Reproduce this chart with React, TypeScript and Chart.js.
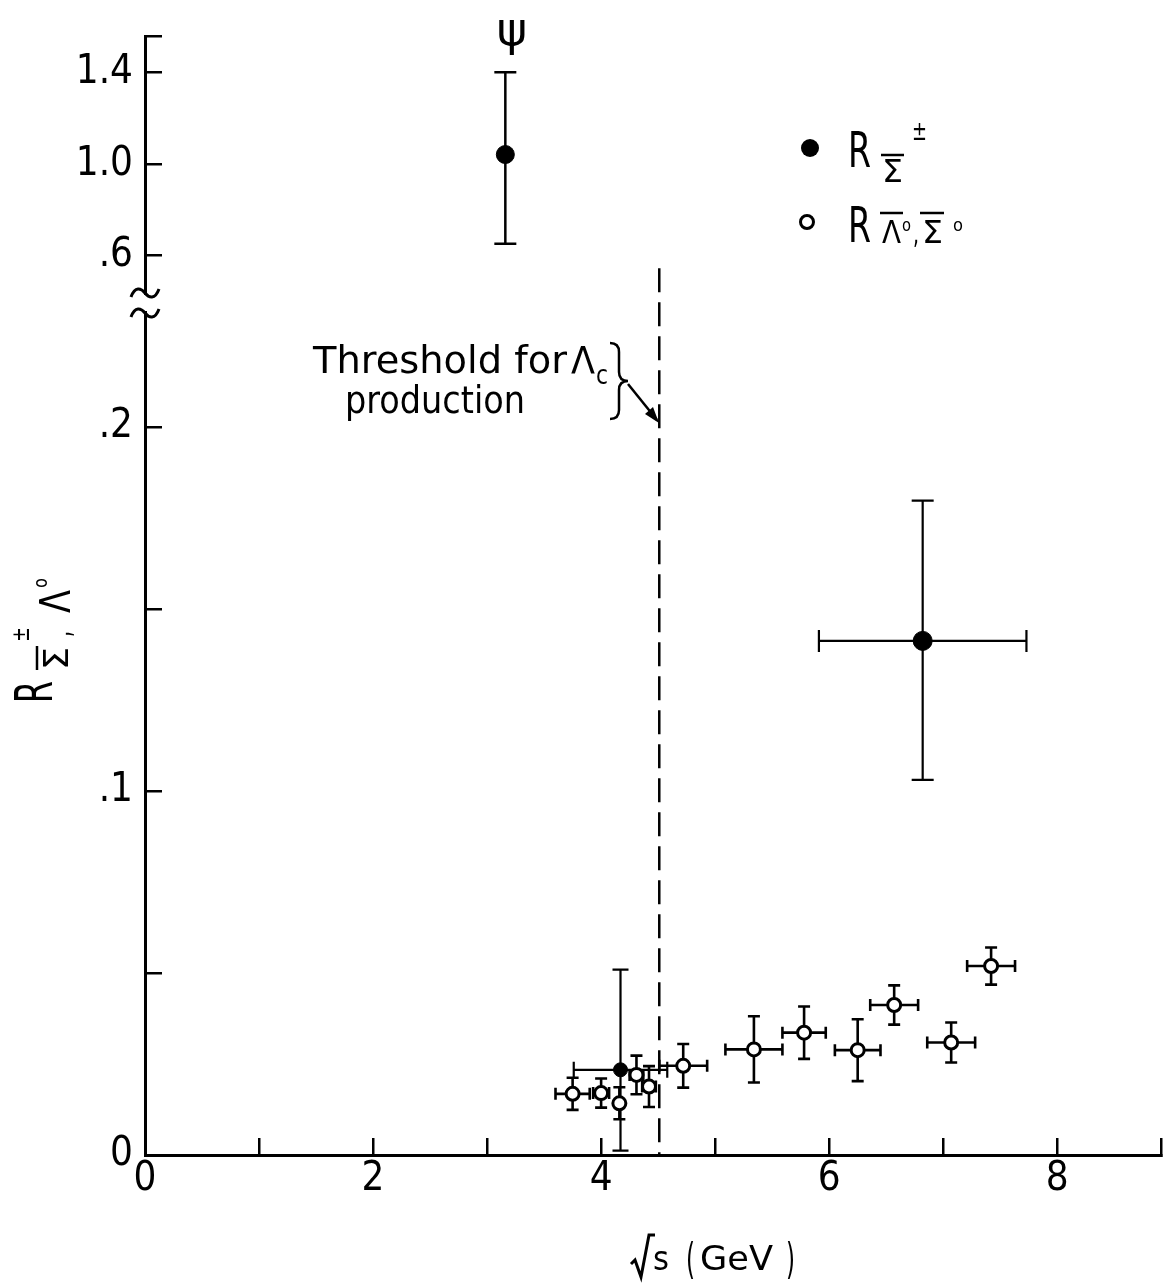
import React, { useEffect, useRef } from "react";
import { Chart, registerables } from "chart.js";

Chart.register(...registerables);

// ---------------- data ----------------
const xTickValues = [0, 1, 2, 3, 4, 5, 6, 7, 8];
const xTickLabels = ["0", "", "2", "", "4", "", "6", "", "8"];
const lowerYTickValues = [0, 0.05, 0.1, 0.15, 0.2];
const lowerYTickLabels = ["0", "", ".1", "", ".2"];
const upperYTickValues = [0.6, 1.0, 1.4, 1.56];
const upperYTickLabels = [".6", "1.0", "1.4", ""];

const X_MIN = 0;
const X_MAX = 8.91;
const LOWER_MIN = 0;
const LOWER_MAX = 0.234;
const UPPER_MIN = 0.393;
const UPPER_MAX = 1.56;

// psi resonance point (upper broken scale)
const psiX = [3.16];
const psiY = [1.042];
const psiYErrLow = [0.39];
const psiYErrHigh = [0.36];

// R for Sigma-bar +/- (filled)
const sigmaPMX = [4.17, 6.82];
const sigmaPMY = [0.0234, 0.1412];
const sigmaPMXErr = [0.41, 0.91];
const sigmaPMYErrLow = [0.0222, 0.0382];
const sigmaPMYErrHigh = [0.0275, 0.0385];

// R for Lambda-bar 0, Sigma-bar 0 (open)
const lambdaX = [3.75, 4.0, 4.16, 4.31, 4.42, 4.72, 5.34, 5.78, 6.25, 6.57, 7.07, 7.42];
const lambdaY = [0.0168, 0.017, 0.0142, 0.022, 0.0188, 0.0245, 0.029, 0.0336, 0.0288, 0.0412, 0.0309, 0.0519];
const lambdaXErr = [0.15, 0.07, 0, 0.06, 0.06, 0.21, 0.25, 0.19, 0.2, 0.21, 0.21, 0.21];
const lambdaYErr = [0.0044, 0.004, 0.0044, 0.0053, 0.0056, 0.006, 0.0091, 0.0072, 0.0085, 0.0054, 0.0055, 0.0051];

// Lambda_c threshold
const thresholdX = [4.51];
const thresholdTopUpper = [0.545];

// ---------------- helpers ----------------
const FONT = "'DejaVu Sans', 'Liberation Sans', sans-serif";
const TICK_FONT = "'Liberation Sans Narrow', 'DejaVu Sans Condensed', 'DejaVu Sans', sans-serif";

function fitText(ctx: CanvasRenderingContext2D, text: string, left: number, baseline: number, size: number, width: number) {
  ctx.save();
  ctx.font = `${size}px ${FONT}`;
  const w = ctx.measureText(text).width || 1;
  ctx.translate(left, baseline);
  ctx.scale(width / w, 1);
  ctx.textAlign = "left";
  ctx.textBaseline = "alphabetic";
  ctx.fillStyle = "#000";
  ctx.fillText(text, 0, 0);
  ctx.restore();
}

function line(ctx: CanvasRenderingContext2D, x1: number, y1: number, x2: number, y2: number, w = 2.5) {
  ctx.save();
  ctx.strokeStyle = "#000";
  ctx.lineWidth = w;
  ctx.beginPath();
  ctx.moveTo(x1, y1);
  ctx.lineTo(x2, y2);
  ctx.stroke();
  ctx.restore();
}

const errorBarPlugin = {
  id: "errorBars",
  beforeDatasetsDraw(chart: any) {
    const ctx: CanvasRenderingContext2D = chart.ctx;
    chart.data.datasets.forEach((ds: any, i: number) => {
      const eb = ds.errorBars;
      if (!eb) return;
      const meta = chart.getDatasetMeta(i);
      const xs = chart.scales[meta.xAxisID];
      const ys = chart.scales[meta.yAxisID];
      ctx.save();
      ctx.strokeStyle = "#000";
      ctx.lineWidth = eb.lineWidth;
      ds.data.forEach((p: any, j: number) => {
        const cx = xs.getPixelForValue(p.x);
        const cy = ys.getPixelForValue(p.y);
        const cap = Array.isArray(eb.cap) ? eb.cap[j] : eb.cap;
        const xe = eb.xErr[j] || 0;
        const yl = eb.yLow[j] || 0;
        const yh = eb.yHigh[j] || 0;
        ctx.beginPath();
        if (xe > 0) {
          const x1 = xs.getPixelForValue(p.x - xe);
          const x2 = xs.getPixelForValue(p.x + xe);
          ctx.moveTo(x1, cy);
          ctx.lineTo(x2, cy);
          ctx.moveTo(x1, cy - cap);
          ctx.lineTo(x1, cy + cap);
          ctx.moveTo(x2, cy - cap);
          ctx.lineTo(x2, cy + cap);
        }
        if (yl > 0 || yh > 0) {
          const y1 = ys.getPixelForValue(p.y - yl);
          const y2 = ys.getPixelForValue(p.y + yh);
          ctx.moveTo(cx, y1);
          ctx.lineTo(cx, y2);
          ctx.moveTo(cx - cap, y1);
          ctx.lineTo(cx + cap, y1);
          ctx.moveTo(cx - cap, y2);
          ctx.lineTo(cx + cap, y2);
        }
        ctx.stroke();
      });
      ctx.restore();
    });
  },
};

const annotationPlugin = {
  id: "annotations",
  beforeDatasetsDraw(chart: any) {
    const ctx: CanvasRenderingContext2D = chart.ctx;
    const xs = chart.scales.x;
    const ys = chart.scales.y;
    const ys2 = chart.scales.y2;
    // dashed threshold line
    const tx = xs.getPixelForValue(thresholdX[0]);
    ctx.save();
    ctx.strokeStyle = "#000";
    ctx.lineWidth = 2.5;
    ctx.setLineDash([24, 10]);
    ctx.beginPath();
    ctx.moveTo(tx, ys2.getPixelForValue(thresholdTopUpper[0]));
    ctx.lineTo(tx, ys.getPixelForValue(0));
    ctx.stroke();
    ctx.restore();
  },
  afterDraw(chart: any) {
    const ctx: CanvasRenderingContext2D = chart.ctx;
    const ys = chart.scales.y;
    const ax = chart.chartArea.left;
    const yb = ys.top;

    // axis break
    ctx.save();
    ctx.fillStyle = "#fff";
    ctx.fillRect(ax - 4, yb - 8, 8, 16);
    ctx.strokeStyle = "#000";
    ctx.lineWidth = 3;
    const tilde = (cy: number) => {
      ctx.beginPath();
      ctx.moveTo(ax - 14, cy + 4);
      ctx.bezierCurveTo(ax - 10, cy - 7, ax - 4, cy - 5, ax, cy);
      ctx.bezierCurveTo(ax + 4, cy + 5, ax + 10, cy + 7, ax + 14, cy - 4);
      ctx.stroke();
    };
    tilde(yb - 10);
    tilde(yb + 10);
    ctx.restore();

    // psi label
    ctx.save();
    ctx.font = `46px ${FONT}`;
    ctx.fillStyle = "#000";
    ctx.textAlign = "center";
    ctx.textBaseline = "alphabetic";
    ctx.fillText("ψ", 512, 45);
    ctx.restore();

    // threshold annotation
    fitText(ctx, "Threshold for", 313, 373, 37, 254);
    fitText(ctx, "Λ", 571, 373, 37, 24);
    fitText(ctx, "c", 596, 384, 26, 12);
    fitText(ctx, "production", 345, 413, 37, 180);
    ctx.save();
    ctx.strokeStyle = "#000";
    ctx.lineWidth = 2.5;
    ctx.beginPath();
    ctx.moveTo(610, 343);
    ctx.quadraticCurveTo(619, 343, 619, 352);
    ctx.lineTo(619, 372);
    ctx.quadraticCurveTo(619, 381, 628, 381);
    ctx.quadraticCurveTo(619, 381, 619, 390);
    ctx.lineTo(619, 410);
    ctx.quadraticCurveTo(619, 419, 610, 419);
    ctx.stroke();
    // arrow
    ctx.beginPath();
    ctx.moveTo(628, 384);
    ctx.lineTo(657, 420);
    ctx.stroke();
    ctx.beginPath();
    ctx.moveTo(659, 423);
    ctx.lineTo(645, 414);
    ctx.lineTo(653, 407);
    ctx.closePath();
    ctx.fillStyle = "#000";
    ctx.fill();
    ctx.restore();

    // legend
    ctx.save();
    ctx.fillStyle = "#000";
    ctx.beginPath();
    ctx.arc(810, 148, 9, 0, Math.PI * 2);
    ctx.fill();
    ctx.strokeStyle = "#000";
    ctx.lineWidth = 3;
    ctx.beginPath();
    ctx.arc(807, 222, 6.5, 0, Math.PI * 2);
    ctx.stroke();
    ctx.restore();
    fitText(ctx, "R", 848, 167, 50, 23);
    fitText(ctx, "Σ", 882, 182, 32, 21);
    line(ctx, 881, 155, 904, 155);
    fitText(ctx, "±", 912, 140, 26, 15);
    fitText(ctx, "R", 848, 242, 50, 23);
    fitText(ctx, "Λ", 882, 243, 32, 19);
    line(ctx, 880, 213, 903, 213);
    fitText(ctx, "o", 902, 231, 18, 9);
    fitText(ctx, ",", 913, 243, 30, 6);
    fitText(ctx, "Σ", 922, 243, 32, 21);
    line(ctx, 920, 213, 944, 213);
    fitText(ctx, "o", 953, 231, 18, 10);

    // y axis title (rotated)
    ctx.save();
    ctx.rotate(-Math.PI / 2);
    fitText(ctx, "R", -703, 52, 52, 22);
    fitText(ctx, "Σ", -670, 68, 34, 23);
    line(ctx, -670, 37, -646, 37);
    fitText(ctx, "±", -642, 29, 24, 15);
    fitText(ctx, ",", -637, 70, 34, 6);
    fitText(ctx, "Λ", -613, 70, 42, 23);
    fitText(ctx, "o", -588, 47, 20, 10);
    ctx.restore();

    // x axis title: √s (GeV)
    ctx.save();
    ctx.strokeStyle = "#000";
    ctx.lineWidth = 3;
    ctx.lineJoin = "miter";
    ctx.beginPath();
    ctx.moveTo(631, 1264);
    ctx.lineTo(635, 1260);
    ctx.lineTo(641, 1277);
    ctx.lineTo(649, 1235);
    ctx.lineTo(655, 1235);
    ctx.stroke();
    ctx.restore();
    fitText(ctx, "s", 653, 1270, 34, 16);
    fitText(ctx, "(", 686, 1274, 42, 9);
    fitText(ctx, "GeV", 700, 1270, 33, 73);
    fitText(ctx, ")", 786, 1274, 42, 9);
  },
};

function labelFor(values: number[], labels: string[]) {
  return (v: any) => {
    const i = values.findIndex((t) => Math.abs(t - Number(v)) < 1e-9);
    return i >= 0 ? labels[i] : "";
  };
}

function zeroPadding(s: any) {
  s.paddingTop = 0;
  s.paddingBottom = 0;
  s.paddingLeft = 0;
  s.paddingRight = 0;
}

const axisGrid = {
  display: true,
  drawOnChartArea: false,
  drawTicks: true,
  tickLength: -17,
  color: "#000",
  lineWidth: 2.5,
};
const axisBorder = { display: true, color: "#000", width: 3 };

export default function App() {
  const ref = useRef<HTMLCanvasElement | null>(null);

  useEffect(() => {
    if (!ref.current) return;
    const chart = new Chart(ref.current, {
      type: "scatter",
      data: {
        datasets: [
          {
            label: "ψ",
            data: psiX.map((x, i) => ({ x, y: psiY[i] })),
            xAxisID: "x",
            yAxisID: "y2",
            pointRadius: 9,
            pointBackgroundColor: "#000",
            pointBorderColor: "#000",
            pointBorderWidth: 1,
            errorBars: { xErr: [0], yLow: psiYErrLow, yHigh: psiYErrHigh, cap: 11, lineWidth: 2.5 },
          } as any,
          {
            label: "R Σ̄±",
            data: sigmaPMX.map((x, i) => ({ x, y: sigmaPMY[i] })),
            xAxisID: "x",
            yAxisID: "y",
            pointRadius: [7, 9.5],
            pointBackgroundColor: "#000",
            pointBorderColor: "#000",
            pointBorderWidth: 1,
            errorBars: { xErr: sigmaPMXErr, yLow: sigmaPMYErrLow, yHigh: sigmaPMYErrHigh, cap: [8, 11], lineWidth: 2.2 },
          } as any,
          {
            label: "R Λ̄°, Σ̄°",
            data: lambdaX.map((x, i) => ({ x, y: lambdaY[i] })),
            xAxisID: "x",
            yAxisID: "y",
            pointRadius: 6.5,
            pointBackgroundColor: "#fff",
            pointBorderColor: "#000",
            pointBorderWidth: 3,
            errorBars: { xErr: lambdaXErr, yLow: lambdaYErr, yHigh: lambdaYErr, cap: 6, lineWidth: 2.6 },
          } as any,
        ],
      },
      options: {
        responsive: false,
        animation: false,
        devicePixelRatio: 1,
        events: [],
        layout: { autoPadding: false, padding: { top: 36, right: 2, left: 0, bottom: 0 } },
        plugins: { legend: { display: false }, tooltip: { enabled: false }, title: { display: false } },
        scales: {
          x: {
            type: "linear",
            position: "bottom",
            min: X_MIN,
            max: X_MAX,
            afterFit: (s: any) => {
              s.height = 130;
              zeroPadding(s);
            },
            afterBuildTicks: (s: any) => {
              s.ticks = [...xTickValues, X_MAX].map((v) => ({ value: v }));
            },
            ticks: {
              autoSkip: false,
              maxRotation: 0,
              padding: 18,
              color: "#000",
              font: { family: TICK_FONT, size: 40 },
              callback: labelFor(xTickValues, xTickLabels),
            },
            grid: axisGrid,
            border: axisBorder,
          },
          y: {
            type: "linear",
            position: "left",
            stack: "left",
            stackWeight: 852,
            min: LOWER_MIN,
            max: LOWER_MAX,
            afterFit: (s: any) => {
              s.width = 145;
              zeroPadding(s);
            },
            afterBuildTicks: (s: any) => {
              s.ticks = lowerYTickValues.map((v) => ({ value: v }));
            },
            ticks: {
              autoSkip: false,
              padding: 29,
              color: "#000",
              font: { family: TICK_FONT, size: 40 },
              callback: labelFor(lowerYTickValues, lowerYTickLabels),
            },
            grid: axisGrid,
            border: axisBorder,
          },
          y2: {
            type: "linear",
            position: "left",
            stack: "left",
            stackWeight: 267,
            min: UPPER_MIN,
            max: UPPER_MAX,
            afterFit: (s: any) => {
              s.width = 145;
              zeroPadding(s);
            },
            afterBuildTicks: (s: any) => {
              s.ticks = upperYTickValues.map((v) => ({ value: v }));
            },
            ticks: {
              autoSkip: false,
              padding: 29,
              color: "#000",
              font: { family: TICK_FONT, size: 40 },
              callback: labelFor(upperYTickValues, upperYTickLabels),
            },
            grid: axisGrid,
            border: axisBorder,
          },
        },
      } as any,
      plugins: [errorBarPlugin, annotationPlugin],
    });
    return () => chart.destroy();
  }, []);

  return (
    <div style={{ position: "absolute", left: 0, top: 0, width: 1163, height: 1285, background: "#fff" }}>
      <canvas ref={ref} width={1163} height={1285} style={{ display: "block" }} />
    </div>
  );
}
